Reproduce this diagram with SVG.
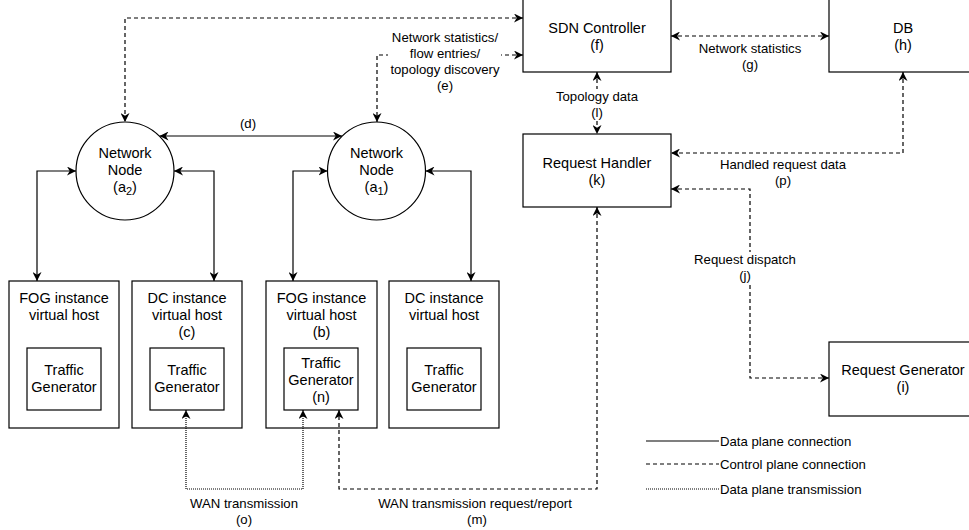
<svg xmlns="http://www.w3.org/2000/svg" width="969" height="530" viewBox="0 0 969 530">
<defs>
<marker id="arr" viewBox="0 0 10 10" refX="10" refY="5" markerWidth="9" markerHeight="9" markerUnits="userSpaceOnUse" orient="auto-start-reverse">
<path d="M0,0 L10,5 L0,10 L3,5 Z" fill="#000"/>
</marker>
</defs>
<style>
.box{fill:#fff;stroke:#000;stroke-width:1.2}
.nt{font-family:"Liberation Sans",Arial,sans-serif;font-size:14.5px;fill:#000;text-anchor:middle}
.et{font-family:"Liberation Sans",Arial,sans-serif;font-size:13.2px;fill:#000;text-anchor:middle}
.lt{font-family:"Liberation Sans",Arial,sans-serif;font-size:13.2px;fill:#000}
.c{fill:none;stroke:#000;stroke-width:1.2}
.dash{stroke-dasharray:4 3}
.dot{stroke-dasharray:1 1}
.bg{fill:#fff;stroke:none}
</style>
<rect width="969" height="530" fill="#fff"/>
<g id="node-sdn">
<rect class="box" x="523" y="-1" width="148" height="73"/>
<text class="nt" x="597" y="33">SDN Controller</text>
<text class="nt" x="597" y="50">(f)</text>
</g>
<g id="node-db">
<rect class="box" x="829" y="-1" width="148" height="73"/>
<text class="nt" x="903" y="33">DB</text>
<text class="nt" x="903" y="50">(h)</text>
</g>
<g id="node-rh">
<rect class="box" x="523" y="134" width="148" height="73"/>
<text class="nt" x="597" y="168">Request Handler</text>
<text class="nt" x="597" y="185">(k)</text>
</g>
<g id="node-rg">
<rect class="box" x="829" y="342" width="148" height="74"/>
<text class="nt" x="903" y="375">Request Generator</text>
<text class="nt" x="903" y="392">(i)</text>
</g>
<g id="node-a2">
<circle class="box" cx="125" cy="171" r="49"/>
<text class="nt" x="125" y="158">Network</text>
<text class="nt" x="125" y="175">Node</text>
<text class="nt" x="125" y="192">(a<tspan font-size="11" dy="3">2</tspan><tspan dy="-3">)</tspan></text>
</g>
<g id="node-a1">
<circle class="box" cx="376.5" cy="171" r="49"/>
<text class="nt" x="376.5" y="158">Network</text>
<text class="nt" x="376.5" y="175">Node</text>
<text class="nt" x="376.5" y="192">(a<tspan font-size="11" dy="3">1</tspan><tspan dy="-3">)</tspan></text>
</g>
<g id="node-fog1">
<rect class="box" x="9" y="281" width="110" height="147"/>
<text class="nt" x="64" y="303">FOG instance</text>
<text class="nt" x="64" y="320">virtual host</text>
<rect class="box" x="27" y="348" width="74" height="62"/>
<text class="nt" x="64" y="375">Traffic</text>
<text class="nt" x="64" y="392">Generator</text>
</g>
<g id="node-dc1">
<rect class="box" x="132" y="281" width="110" height="147"/>
<text class="nt" x="187" y="303">DC instance</text>
<text class="nt" x="187" y="320">virtual host</text>
<text class="nt" x="187" y="337">(c)</text>
<rect class="box" x="150" y="348" width="74" height="62"/>
<text class="nt" x="187" y="375">Traffic</text>
<text class="nt" x="187" y="392">Generator</text>
</g>
<g id="node-fog2">
<rect class="box" x="266" y="281" width="111" height="147"/>
<text class="nt" x="321.5" y="303">FOG instance</text>
<text class="nt" x="321.5" y="320">virtual host</text>
<text class="nt" x="321.5" y="337">(b)</text>
<rect class="box" x="284" y="348" width="74" height="62"/>
<text class="nt" x="321" y="368">Traffic</text>
<text class="nt" x="321" y="385">Generator</text>
<text class="nt" x="321" y="402">(n)</text>
</g>
<g id="node-dc2">
<rect class="box" x="389" y="281" width="110" height="147"/>
<text class="nt" x="444" y="303">DC instance</text>
<text class="nt" x="444" y="320">virtual host</text>
<rect class="box" x="407" y="348" width="74" height="62"/>
<text class="nt" x="444" y="375">Traffic</text>
<text class="nt" x="444" y="392">Generator</text>
</g>
<g id="connectors">
<path class="c" d="M76,171 H37 V281" marker-start="url(#arr)" marker-end="url(#arr)"/>
<path class="c" d="M174,171 H214 V281" marker-start="url(#arr)" marker-end="url(#arr)"/>
<path class="c" d="M327.5,171 H293 V281" marker-start="url(#arr)" marker-end="url(#arr)"/>
<path class="c" d="M425.5,171 H471 V281" marker-start="url(#arr)" marker-end="url(#arr)"/>
<path class="c" d="M159.5,136 H342" marker-start="url(#arr)" marker-end="url(#arr)"/>
<path class="c dash" d="M523,18 H125 V122" marker-start="url(#arr)" marker-end="url(#arr)"/>
<path class="c dash" d="M523,55 H377 V122" marker-start="url(#arr)" marker-end="url(#arr)"/>
<path class="c dash" d="M671,36 H829" marker-start="url(#arr)" marker-end="url(#arr)"/>
<path class="c dash" d="M597,72 V134" marker-start="url(#arr)" marker-end="url(#arr)"/>
<path class="c dash" d="M903,72 V153 H671" marker-start="url(#arr)" marker-end="url(#arr)"/>
<path class="c dash" d="M671,189 H750 V378 H829" marker-start="url(#arr)" marker-end="url(#arr)"/>
<path class="c dash" d="M597,207 V489 H339 V410" marker-start="url(#arr)" marker-end="url(#arr)"/>
<path class="c dot" d="M186,410 V489 H303 V410" marker-start="url(#arr)" marker-end="url(#arr)"/>
<text class="et" x="248" y="128">(d)</text>
<rect class="bg" x="388" y="30" width="113" height="64"/>
<text class="et" x="445" y="42">Network statistics/</text>
<text class="et" x="445" y="58">flow entries/</text>
<text class="et" x="445" y="74">topology discovery</text>
<text class="et" x="445" y="90">(e)</text>
<text class="et" x="750" y="53">Network statistics</text>
<text class="et" x="750" y="69">(g)</text>
<rect class="bg" x="553" y="89" width="88" height="31"/>
<text class="et" x="597" y="101">Topology data</text>
<text class="et" x="597" y="117">(l)</text>
<text class="et" x="783" y="169">Handled request data</text>
<text class="et" x="783" y="185">(p)</text>
<rect class="bg" x="693" y="252" width="104" height="32"/>
<text class="et" x="745" y="264">Request dispatch</text>
<text class="et" x="745" y="280">(j)</text>
<text class="et" x="244" y="508">WAN transmission</text>
<text class="et" x="244" y="524">(o)</text>
<text class="et" x="475" y="508">WAN transmission request/report</text>
<text class="et" x="477" y="524">(m)</text>
</g>
<g id="legend">
<line class="c" x1="646" y1="441" x2="719" y2="441"/>
<text class="lt" x="720" y="446">Data plane connection</text>
<line class="c dash" x1="646" y1="464" x2="719" y2="464"/>
<text class="lt" x="720" y="469">Control plane connection</text>
<line class="c dot" x1="646" y1="489" x2="719" y2="489"/>
<text class="lt" x="720" y="494">Data plane transmission</text>
</g>
</svg>
